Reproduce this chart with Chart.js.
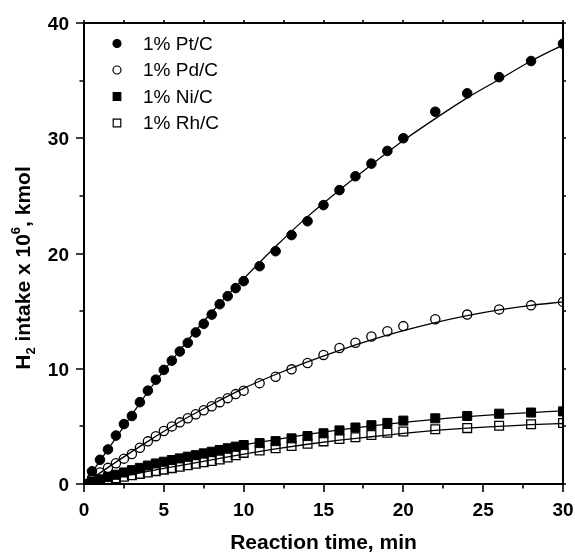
<!DOCTYPE html>
<html>
<head>
<meta charset="utf-8">
<script src="https://cdn.jsdelivr.net/npm/chart.js@4/dist/chart.umd.min.js"></script>
<style>
  html, body { margin: 0; padding: 0; background: #fff; }
  #wrap { width: 575px; height: 555px; }
</style>
</head>
<body>
<div id="wrap"><canvas id="c" width="575" height="555"></canvas></div>
<script>
// Sampling times (min)
const times = [0, 0.5, 1, 1.5, 2, 2.5, 3, 3.5, 4, 4.5, 5, 5.5, 6, 6.5, 7, 7.5, 8, 8.5, 9, 9.5, 10,
               11, 12, 13, 14, 15, 16, 17, 18, 19, 20, 22, 24, 26, 28, 30];

// Measured H2 intake (x 10^6 kmol)
const ptC = [0, 1.1, 2.1, 3.0, 4.2, 5.2, 5.9, 7.1, 8.1, 9.05, 9.9, 10.7, 11.5, 12.25, 13.15, 13.9, 14.7, 15.6, 16.3, 17.0, 17.6,
             18.9, 20.2, 21.6, 22.8, 24.2, 25.5, 26.7, 27.8, 28.9, 30.0, 32.3, 33.9, 35.3, 36.7, 38.2];
const pdC = [0, 0.5, 1.0, 1.4, 1.8, 2.2, 2.6, 3.15, 3.7, 4.15, 4.6, 5.0, 5.35, 5.7, 6.05, 6.4, 6.75, 7.1, 7.45, 7.8, 8.1,
             8.75, 9.3, 9.95, 10.5, 11.2, 11.8, 12.25, 12.8, 13.25, 13.7, 14.3, 14.7, 15.15, 15.5, 15.8];
const niC = [0, 0.2, 0.4, 0.6, 0.8, 1.0, 1.2, 1.4, 1.6, 1.78, 1.93, 2.08, 2.22, 2.37, 2.5, 2.66, 2.8, 2.95, 3.1, 3.24, 3.38,
             3.55, 3.72, 3.96, 4.16, 4.4, 4.65, 4.9, 5.1, 5.3, 5.5, 5.7, 5.9, 6.1, 6.2, 6.3];
const rhC = [0, 0.12, 0.25, 0.38, 0.5, 0.63, 0.76, 0.88, 1.0, 1.12, 1.25, 1.38, 1.5, 1.62, 1.75, 1.88, 2.0, 2.13, 2.3, 2.5, 2.7,
             2.9, 3.1, 3.3, 3.5, 3.7, 3.9, 4.05, 4.25, 4.45, 4.55, 4.75, 4.85, 5.05, 5.18, 5.3];

// Fitted curves
const fitTimes = [0, 2, 4, 6, 8, 10, 12, 14, 16, 18, 20, 22, 24, 26, 28, 30];
const ptFit = [0, 4.0, 8.0, 11.6, 14.9, 17.8, 20.6, 23.2, 25.5, 27.7, 29.8, 31.7, 33.5, 35.1, 36.7, 38.1];
const pdFit = [0, 1.9, 3.7, 5.4, 6.9, 8.3, 9.5, 10.6, 11.6, 12.5, 13.3, 14.0, 14.6, 15.1, 15.5, 15.8];
const niFit = [0, 0.8, 1.6, 2.25, 2.85, 3.4, 3.85, 4.3, 4.7, 5.05, 5.35, 5.6, 5.85, 6.05, 6.2, 6.35];
const rhFit = [0, 0.55, 1.1, 1.6, 2.1, 2.6, 3.05, 3.45, 3.8, 4.1, 4.4, 4.65, 4.85, 5.0, 5.15, 5.25];

const seriesNames = ['1% Pt/C', '1% Pd/C', '1% Ni/C', '1% Rh/C'];
const xTickLabels = ['0', '5', '10', '15', '20', '25', '30'];
const yTickLabels = ['0', '10', '20', '30', '40'];

const pts = (xs, ys) => xs.map((x, i) => ({ x: x, y: ys[i] }));

const markerStyles = [
  { pointStyle: 'circle', pointRadius: 4.8, pointBackgroundColor: '#000', pointBorderColor: '#000', pointBorderWidth: 1 },
  { pointStyle: 'circle', pointRadius: 4.6, pointBackgroundColor: 'rgba(0,0,0,0)', pointBorderColor: '#000', pointBorderWidth: 1.3 },
  { pointStyle: 'rect', pointRadius: 6.4, pointBackgroundColor: '#000', pointBorderColor: '#000', pointBorderWidth: 1 },
  { pointStyle: 'rect', pointRadius: 6.2, pointBackgroundColor: 'rgba(0,0,0,0)', pointBorderColor: '#000', pointBorderWidth: 1.3 }
];

const measured = [ptC, pdC, niC, rhC];
const fits = [ptFit, pdFit, niFit, rhFit];

const datasets = [];
measured.forEach((ys, i) => {
  datasets.push(Object.assign({
    label: seriesNames[i],
    data: pts(times, ys),
    showLine: false,
    order: 1
  }, markerStyles[i]));
});
fits.forEach((ys, i) => {
  datasets.push({
    label: seriesNames[i] + ' fit',
    data: pts(fitTimes, ys),
    showLine: true,
    borderColor: '#000',
    borderWidth: 1.3,
    pointRadius: 0,
    cubicInterpolationMode: 'monotone',
    order: 2
  });
});

const FONT = '"Liberation Sans", Arial, sans-serif';

// Frame, ticks, tick labels, axis titles and the inset legend
const axesPlugin = {
  id: 'axesDecor',
  afterDraw(chart) {
    const ctx = chart.ctx;
    const a = chart.chartArea;
    const xs = chart.scales.x, ys = chart.scales.y;
    ctx.save();
    ctx.strokeStyle = '#000';
    ctx.fillStyle = '#000';

    // frame
    ctx.lineWidth = 2;
    ctx.strokeRect(a.left, a.top, a.right - a.left, a.bottom - a.top);

    // x ticks (bottom outward, top small)
    ctx.lineWidth = 1.6;
    for (let v = 0; v <= 30; v += 2.5) {
      const px = Math.round(xs.getPixelForValue(v));
      const major = (v % 5 === 0);
      ctx.beginPath();
      ctx.moveTo(px, a.bottom);
      ctx.lineTo(px, a.bottom + (major ? 8 : 4.5));
      ctx.moveTo(px, a.top);
      ctx.lineTo(px, a.top - 3);
      ctx.stroke();
    }
    // y ticks (left outward, right small)
    for (let v = 0; v <= 40; v += 5) {
      const py = Math.round(ys.getPixelForValue(v));
      const major = (v % 10 === 0);
      ctx.beginPath();
      ctx.moveTo(a.left, py);
      ctx.lineTo(a.left - (major ? 8 : 4.5), py);
      ctx.moveTo(a.right, py);
      ctx.lineTo(a.right + 3, py);
      ctx.stroke();
    }

    // tick labels
    ctx.font = 'bold 19px ' + FONT;
    ctx.textBaseline = 'alphabetic';
    ctx.textAlign = 'center';
    xTickLabels.forEach(t => {
      ctx.fillText(t, xs.getPixelForValue(Number(t)), a.bottom + 32);
    });
    ctx.textAlign = 'right';
    yTickLabels.forEach(t => {
      ctx.fillText(t, a.left - 15, ys.getPixelForValue(Number(t)) + 7);
    });

    // x title
    ctx.font = 'bold 21px ' + FONT;
    ctx.textAlign = 'center';
    ctx.fillText('Reaction time, min', (a.left + a.right) / 2, 549);

    // y title with sub/superscript
    const parts = [
      { t: 'H', f: 'bold 21px ', dy: 0 },
      { t: '2', f: 'bold 13px ', dy: 5 },
      { t: ' intake x 10', f: 'bold 21px ', dy: 0 },
      { t: '6', f: 'bold 13px ', dy: -10 },
      { t: ', kmol', f: 'bold 21px ', dy: 0 }
    ];
    let total = 0;
    parts.forEach(p => { ctx.font = p.f + FONT; p.w = ctx.measureText(p.t).width; total += p.w; });
    ctx.translate(30, 268);
    ctx.rotate(-Math.PI / 2);
    ctx.textAlign = 'left';
    let cx = -total / 2;
    parts.forEach(p => {
      ctx.font = p.f + FONT;
      ctx.fillText(p.t, cx, p.dy);
      cx += p.w;
    });
    ctx.setTransform(1, 0, 0, 1, 0, 0);

    // legend
    const rowY = [43.5, 70, 96.5, 123];
    ctx.font = '19px ' + FONT;
    ctx.textAlign = 'left';
    ctx.textBaseline = 'middle';
    seriesNames.forEach((name, i) => {
      const mx = 117, my = rowY[i];
      const st = markerStyles[i];
      ctx.lineWidth = 1.2;
      ctx.beginPath();
      if (st.pointStyle === 'circle') {
        ctx.arc(mx, my, 4, 0, Math.PI * 2);
      } else {
        ctx.rect(mx - 3.8, my - 3.8, 7.6, 7.6);
      }
      if (st.pointBackgroundColor === '#000') ctx.fill();
      ctx.stroke();
      ctx.fillText(name, 143, my + 1);
    });
    ctx.restore();
  }
};

new Chart(document.getElementById('c'), {
  type: 'scatter',
  data: { datasets: datasets },
  options: {
    responsive: false,
    animation: false,
    layout: { padding: { left: 76, top: 23, right: 12, bottom: 63 } },
    plugins: { legend: { display: false }, tooltip: { enabled: false } },
    scales: {
      x: {
        type: 'linear', min: 0, max: 30,
        ticks: { display: false },
        grid: { display: false },
        border: { display: false }
      },
      y: {
        type: 'linear', min: 0, max: 40,
        ticks: { display: false },
        grid: { display: false },
        border: { display: false }
      }
    }
  },
  plugins: [axesPlugin]
});
</script>
</body>
</html>
